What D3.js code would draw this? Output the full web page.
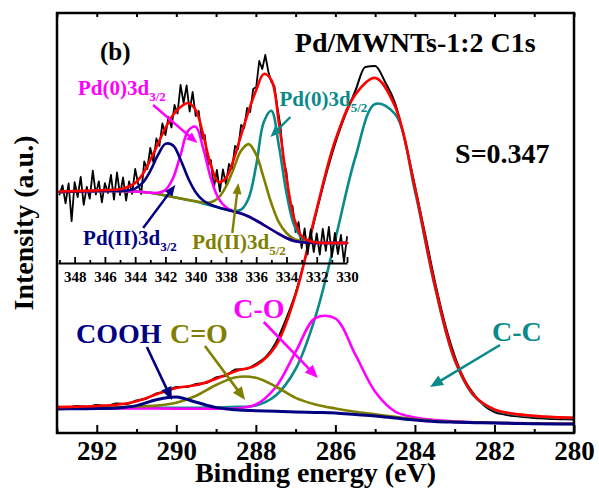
<!DOCTYPE html>
<html><head><meta charset="utf-8">
<script src="https://cdnjs.cloudflare.com/ajax/libs/d3/7.8.5/d3.min.js"></script>
<style>
body{margin:0;background:#fff}
svg{display:block}
text{font-family:"Liberation Serif","Times New Roman",serif;font-weight:bold}
</style>
</head><body>
<svg id="c" width="599" height="488"></svg>
<script>
// ---------- Main C1s spectrum (binding energy, eV) ----------
const mainE = [293,292.5,292,291.5,291,290.5,290,289.5,289,288.5,288,287.5,287,286.5,286,285.5,285,284.5,284,283.5,283,282.5,282,281.5,281,280.5,280];
const mainBackground = [24,24,24,24,24,23.8,23.5,23.2,23,22.5,22,21.5,21,20.5,20,18.5,17,15,13,11.5,10.8,10.3,10,9.6,9.3,9.1,9];
const mainCOOH = [0.1,0.2,0.4,1.0,3.4,9.4,12.4,7.6,2.4,0.7,0.3,0.2,0.1,0.1,0,0,0,0,0,0,0,0,0,0,0,0,0];
const mainCdO  = [0.8,1.0,1.3,1.8,2.6,3.6,6.8,14.1,25.0,33.3,33.3,25.0,14.1,8,4.5,2.8,1.8,1.1,0.7,0.5,0.4,0.3,0.2,0.2,0.1,0.1,0.1];
const mainCO   = [0.4,0.4,0.5,0.5,0.6,0.7,0.8,1.0,1.3,2.0,6.5,24.3,60.1,94.5,94.5,60.1,24.3,6.5,2.5,1.4,0.8,0.5,0.3,0.3,0.2,0.2,0.2];
const mainCC   = [0.6,0.7,0.8,0.9,1.1,1.3,1.6,2.0,2.6,3.6,5.5,16,43,96,174,257,312,304,229,135,62,26,13,9,7.5,6.5,6];
const mainFit  = [25.9,26.3,27.0,28.2,31.7,38.8,45.1,47.9,54.3,62.1,67.6,87,138.3,219.1,293,338.4,355.1,326.6,245.2,148.4,74,37.1,23.5,19.1,17.1,15.9,15.3];
const mainRawE = [293,292.75,292.5,292.25,292,291.75,291.5,291.25,291,290.75,290.5,290.25,290,289.75,289.5,289.25,289,288.75,288.5,288.25,288,287.75,287.5,287.25,287,286.75,286.5,286.25,286,285.75,285.5,285.25,285,284.75,284.5,284.25,284,283.75,283.5,283.25,283,282.75,282.5,282.25,282,281.75,281.5,281.25,281,280.75,280.5,280.25,280];
const mainRaw  = [26.5,25.5,27,26,28,27,29.5,29,32.5,34.5,39.5,41.5,46,46,49,50,55.5,57.5,63.5,64,69,76,90,113,140,176,217,256,290,318,342,366,367,351,330,292,247,200,152,110,77,53,38,27,21,18.5,17,16,15,14.5,14,13.8,13.5];
const mainTicks = [292,290,288,286,284,282,280];
const mainMinor = [293,291,289,287,285,283,281];

// ---------- Inset Pd 3d spectrum ----------
const insetE = [349,348.5,348,347.5,347,346.5,346,345.5,345,344.5,344,343.5,343,342.5,342,341.5,341,340.5,340,339.5,339,338.5,338,337.5,337,336.5,336,335.5,335,334.5,334,333.5,333,332.5,332,331.5,331,330.5,330];
const insetBackground = [71,71.2,71.4,71.6,71.8,72,72,72,72,71.8,71.5,71,70.2,69,67.5,66,64.5,63,61.5,59.5,57.5,55.5,53.5,51.5,49.5,46.5,42.5,38,33.5,29,25,22,20.8,20.3,20,20,20,20,20];
const pdII32 = [0,0,0,0,0,0,0,0,0.1,0.7,2.9,9.3,21.9,38.8,51.6,51.6,38.8,21.9,9.3,2.9,0.7,0.1,0,0,0,0,0,0,0,0,0,0,0,0,0,0,0,0,0];
const pd0_32 = [0,0,0,0,0,0,0,0,0,0,0,0,0.1,1.1,5.5,18.7,43.6,69.2,74.7,54.9,27.5,9.4,2.2,0.3,0,0,0,0,0,0,0,0,0,0,0,0,0,0,0];
const pdII52 = [0,0,0,0,0,0,0,0,0,0,0,0,0,0,0,0,0,0,0.2,0.8,3.2,9.6,22.8,42.6,62.7,72.4,65.8,46.9,26.3,11.6,5,2,0.8,0.2,0,0,0,0,0];
const pd0_52 = [0,0,0,0,0,0,0,0,0,0,0,0,0,0,0,0,0,0,0,0,0,0,0,0.5,3.8,18.3,55.2,102.9,118.8,88,45,16,5,1.5,0.5,0,0,0,0];
const insetFit = [71.5,71.7,71.9,72.1,72.3,72.6,72.8,73.2,73.8,76,80,89,103,119,135,148,156,160,153,128,98,81,85,103,128,152,173,189,183,140,85,45,27,22,20.5,20.2,20,20,20];
const insetRawE = [349,348.8,348.6,348.4,348.2,348,347.8,347.6,347.4,347.2,347,346.8,346.6,346.4,346.2,346,345.8,345.6,345.4,345.2,345,344.8,344.6,344.4,344.2,344,343.8,343.6,343.4,343.2,343,342.8,342.6,342.4,342.2,342,341.8,341.6,341.4,341.2,341,340.8,340.6,340.4,340.2,340,339.8,339.6,339.4,339.2,339,338.8,338.6,338.4,338.2,338,337.8,337.6,337.4,337.2,337,336.8,336.6,336.4,336.2,336,335.8,335.6,335.4,335.2,335,334.8,334.6,334.4,334.2,334,333.8,333.6,333.4,333.2,333,332.8,332.6,332.4,332.2,332,331.8,331.6,331.4,331.2,331,330.8,330.6,330.4,330.2,330];
const insetRaw = [68.5,77.6,59.7,79.7,41.8,80.9,66,86.1,58.1,76.2,
64.3,92.4,68.5,81.6,60.7,79.8,70,88.1,63.3,90.5,
67.8,85.5,62.5,81.7,69.2,94,79,69,101.5,94,
115,101,124.5,117,139.5,128,146,135.5,158,149.5,
178,160,177.7,151.5,171,147,152,124,128,98,
103,75,93,71.5,93.5,79,99,94,117,114,
138,135,155,151,174,176,202,194,208,191.5,
181,177,156,137,103,91,59,57,31,41,
15,34.5,8.5,33.5,11,29.5,8.3,34.2,12.1,36,
6,30,9,28,1,26];
const insetTicks = [348,346,344,342,340,338,336,334,332,330];
const insetMinor = [349,347,345,343,341,339,337,335,333,331];

// ---------- Drawing ----------
const C = {red:"#ff0000", teal:"#0b8a8a", mag:"#ff00ff", olive:"#808000", navy:"#000080", black:"#000"};
const svg = d3.select("#c");
const x = d3.scaleLinear().domain([293,280]).range([57,574]);
const y = d3.scaleLinear().domain([0,420]).range([433,13]);
const xi = d3.scaleLinear().domain([349.1,330]).range([58,347]);
const yi = d3.scaleLinear().domain([0,250]).range([263,13]);

svg.append("defs").append("clipPath").attr("id","clipMain")
  .append("rect").attr("x",x(293)).attr("y",y(420)).attr("width",x(280)-x(293)).attr("height",y(0)-y(420));

function path(g, E, vals, xs, ys, color, w, curve){
  const ln = d3.line().x((d,i)=>xs(E[i])).y(d=>ys(d)).curve(curve);
  g.append("path").datum(vals).attr("d", ln).attr("fill","none")
    .attr("stroke", color).attr("stroke-width", w).attr("stroke-linejoin","round").attr("stroke-linecap","round");
}
const add = (a,b)=>a.map((v,i)=>v+b[i]);
const smooth = d3.curveCatmullRom.alpha(0.5);

// main curves
const gm = svg.append("g").attr("clip-path","url(#clipMain)");
path(gm, mainRawE, mainRaw, x, y, C.black, 2, d3.curveMonotoneX);
path(gm, mainE, add(mainBackground, mainCC), x, y, C.teal, 2.6, smooth);
path(gm, mainE, add(mainBackground, mainCO), x, y, C.mag, 2.6, smooth);
path(gm, mainE, add(mainBackground, mainCdO), x, y, C.olive, 2.6, smooth);
path(gm, mainE, add(mainBackground, mainCOOH), x, y, C.navy, 3, smooth);
path(gm, mainE, mainFit, x, y, C.red, 2.6, smooth);

// inset curves
const gi = svg.append("g");
path(gi, insetRawE, insetRaw, xi, yi, C.black, 1.8, d3.curveLinear);
path(gi, insetE, add(insetBackground, pd0_52), xi, yi, C.teal, 2.6, smooth);
path(gi, insetE, add(insetBackground, pdII52), xi, yi, C.olive, 2.6, smooth);
path(gi, insetE, add(insetBackground, pd0_32), xi, yi, C.mag, 2.6, smooth);
path(gi, insetE, add(insetBackground, pdII32), xi, yi, C.navy, 2.6, smooth);
path(gi, insetE, insetFit, xi, yi, C.red, 2.6, smooth);

// frame
svg.append("rect").attr("x",x(293)).attr("y",y(420)).attr("width",x(280)-x(293)).attr("height",y(0)-y(420))
  .attr("fill","none").attr("stroke","#000").attr("stroke-width",2.5);

function styleAxis(g, size){
  g.select(".domain").remove();
  g.selectAll(".tick line").attr("stroke","#000").attr("stroke-width",2);
  g.selectAll(".tick text").style("font-size", size+"px").attr("fill","#000");
}
// bottom axis
const ab = svg.append("g").attr("transform",`translate(0,${y(0)})`)
  .call(d3.axisBottom(x).tickValues(mainTicks).tickSize(-8).tickPadding(8).tickFormat(d3.format("d")));
styleAxis(ab, 27);
const abm = svg.append("g").attr("transform",`translate(0,${y(0)})`)
  .call(d3.axisBottom(x).tickValues(mainMinor).tickSize(-4).tickFormat(""));
styleAxis(abm, 10);
// top axis ticks
const at = svg.append("g").attr("transform",`translate(0,${y(420)})`)
  .call(d3.axisTop(x).tickValues(mainTicks.concat(mainMinor)).tickSize(-4).tickFormat(""));
styleAxis(at, 10);

// inset axis
const ai = svg.append("g").attr("transform",`translate(0,${yi(0)})`)
  .call(d3.axisBottom(xi).tickValues(insetTicks).tickSize(-6).tickSizeOuter(0).tickPadding(8).tickFormat(d3.format("d")));
ai.select(".domain").attr("stroke","#000").attr("stroke-width",2);
ai.selectAll(".tick line").attr("stroke","#000").attr("stroke-width",1.8);
ai.selectAll(".tick text").style("font-size","15px").attr("fill","#000");
const aim = svg.append("g").attr("transform",`translate(0,${yi(0)})`)
  .call(d3.axisBottom(xi).tickValues(insetMinor).tickSize(-3).tickFormat(""));
aim.select(".domain").remove();
aim.selectAll(".tick line").attr("stroke","#000").attr("stroke-width",1.8);

// axis titles
svg.append("text").attr("x",(x(293)+x(280))/2).attr("y",482).attr("text-anchor","middle")
  .style("font-size","28px").text("Binding energy (eV)");
svg.append("text").attr("transform",`translate(33,${(y(0)+y(420))/2}) rotate(-90)`).attr("text-anchor","middle")
  .style("font-size","28px").text("Intensity (a.u.)");

// arrows
function arrow(x1,y1,x2,y2,color,w,hl,hw){
  const dx=x2-x1, dy=y2-y1, L=Math.hypot(dx,dy), ux=dx/L, uy=dy/L;
  const bx=x2-ux*hl, by=y2-uy*hl;
  svg.append("line").attr("x1",x1).attr("y1",y1).attr("x2",bx+ux*1).attr("y2",by+uy*1)
    .attr("stroke",color).attr("stroke-width",w);
  svg.append("polygon").attr("points",
    `${x2},${y2} ${bx-uy*hw/2},${by+ux*hw/2} ${bx+uy*hw/2},${by-ux*hw/2}`).attr("fill",color);
}
function label(px,py,txt,color,size,sub,subSize){
  const t = svg.append("text").attr("x",px).attr("y",py).attr("fill",color).style("font-size",size+"px").text(txt);
  if(sub){ t.append("tspan").attr("dy", size*0.3).style("font-size",subSize+"px").text(sub); }
  return t;
}

// main annotations
label(x(287.02), y(381), "Pd/MWNTs-1:2 C1s", "#000", 28);
label(x(291.92), y(373), "(b)", "#000", 25);
label(x(282.99), y(270), "S=0.347", "#000", 28);
label(x(292.52), y(90), "COOH", C.navy, 28);
label(x(290.16), y(90), "C=O", C.olive, 28);
label(x(288.57), y(115), "C-O", C.mag, 28);
label(x(282.06), y(92), "C-C", C.teal, 28);
arrow(x(290.74), y(86), x(290.11), y(33), C.navy, 2.6, 13, 11);
arrow(x(289.28), y(87), x(288.27), y(33), C.olive, 2.6, 13, 11);
arrow(x(287.80), y(111), x(286.44), y(55), C.mag, 2.6, 13, 11);
arrow(x(281.86), y(88), x(283.62), y(46), C.teal, 2.6, 13, 11);

// inset annotations
label(xi(347.78), yi(168), "Pd(0)3d", C.mag, 21, "3/2", 13);
label(xi(334.46), yi(157), "Pd(0)3d", C.teal, 21, "5/2", 13);
label(xi(347.44), yi(18), "Pd(II)3d", C.navy, 21, "3/2", 13);
label(xi(340.23), yi(14), "Pd(II)3d", C.olive, 21, "5/2", 13);
arrow(xi(342.81), yi(158), xi(339.89), yi(120), C.mag, 2.4, 11, 9);
arrow(xi(333.74), yi(146), xi(335.06), yi(126), C.teal, 2.4, 11, 9);
arrow(xi(343.47), yi(35), xi(341.35), yi(78), C.navy, 2.4, 11, 9);
arrow(xi(337.58), yi(30), xi(337.18), yi(80), C.olive, 2.4, 11, 9);
</script>
</body></html>
